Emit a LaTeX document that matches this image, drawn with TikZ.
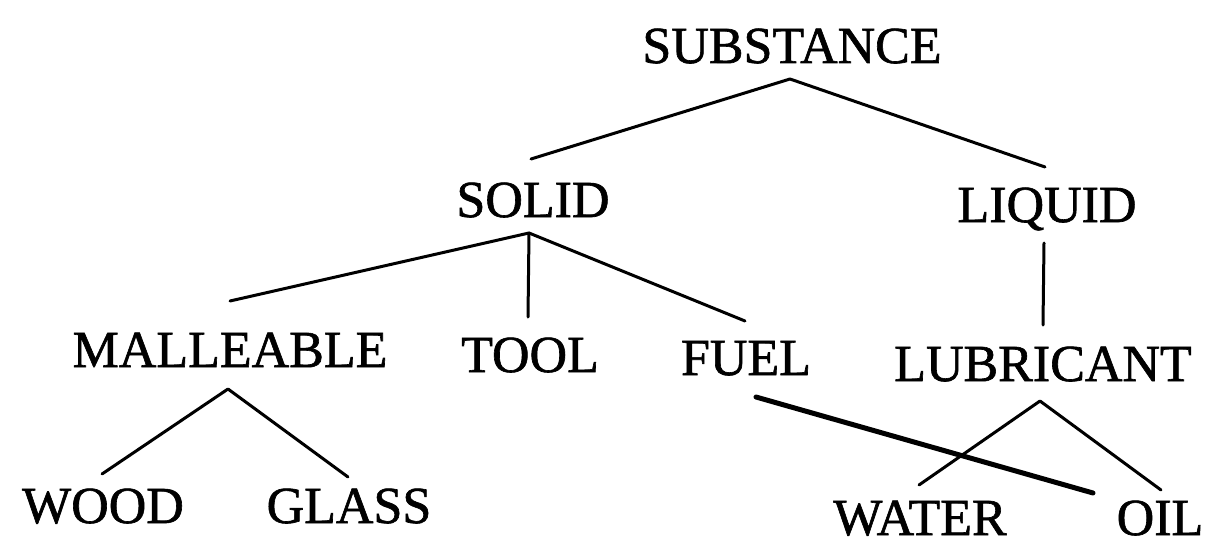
\documentclass[tikz,border=0pt]{standalone}
\usepackage{fontspec}
\setmainfont{Liberation Serif}[FakeBold=1.2]
\begin{document}
\begin{tikzpicture}[x=1pt, y=-1pt,
  term/.style={anchor=base, inner sep=0pt, font=\fontsize{52}{60}\selectfont},
  branch/.style={line width=3pt, line cap=round, line join=round},
  heavy/.style={line width=5pt, line cap=round}]
\useasboundingbox (0,0) rectangle (1208,543);

% terms of the hierarchy (placed by baseline)
\node[term] (sub)    at (792,63)   {SUBSTANCE};
\node[term] (solid)  at (533,217)  {SOLID};
\node[term] (liquid) at (1047,222) {LIQUID};
\node[term] (mall)   at (230,367)  {MALLEABLE};
\node[term] (tool)   at (530,372)  {TOOL};
\node[term] (fuel)   at (746,375)  {FUEL};
\node[term] (lub)    at (1043,381) {LUBRICANT};
\node[term] (wood)   at (103,523)  {WOOD};
\node[term] (glass)  at (349,523)  {GLASS};
\node[term] (water)  at (920,535)  {WATER};
\node[term] (oil)    at (1160,535) {OIL};

% branches
\draw[branch] ([shift={(-2,-58)}]solid.base) -- ([shift={(-2,16)}]sub.base) -- ([shift={(-2,-55)}]liquid.base);
\draw[branch] ([shift={(0,-66)}]mall.base) -- ([shift={(-4,16)}]solid.base) -- ([shift={(-1,-54)}]fuel.base);
\draw[branch] ([shift={(-4,16)}]solid.base) -- ([shift={(-2,-55)}]tool.base);
\draw[branch] ([shift={(-3,21)}]liquid.base) -- ([shift={(0,-56)}]lub.base);
\draw[branch] ([shift={(-1,-49)}]wood.base) -- ([shift={(-2,22)}]mall.base) -- ([shift={(-1,-46)}]glass.base);
\draw[branch] ([shift={(-1,-50)}]water.base) -- ([shift={(-3,20)}]lub.base) -- ([shift={(1,-45)}]oil.base);
\draw[heavy] ([shift={(10,22)}]fuel.base) -- ([shift={(-67,-42)}]oil.base);
\end{tikzpicture}
\end{document}
